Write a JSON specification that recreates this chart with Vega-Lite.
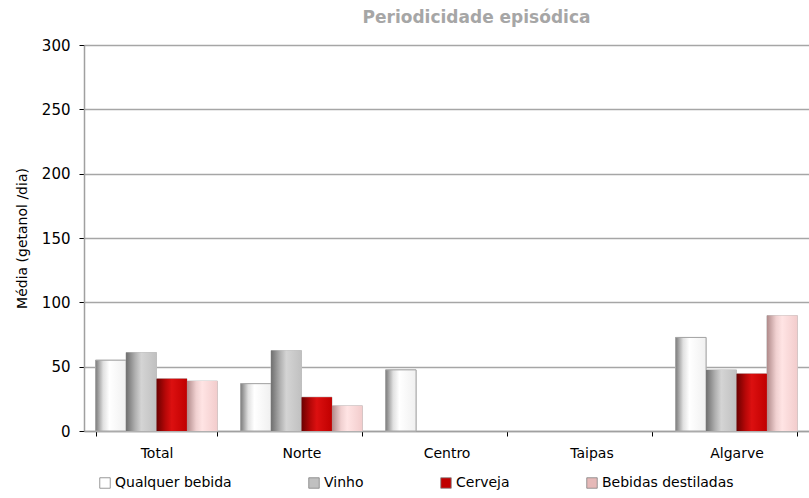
{
  "$schema": "https://vega.github.io/schema/vega-lite/v6.json",
  "width": 725,
  "height": 386,
  "autosize": {"type": "none"},
  "padding": {"left": 84, "top": 45, "right": 0, "bottom": 67},
  "background": "white",
  "title": {
    "text": "Periodicidade  episódica",
    "font": "DejaVu Sans",
    "fontSize": 17,
    "fontWeight": "bold",
    "color": "#a6a6a6",
    "anchor": "middle",
    "dx": 30,
    "offset": 11
  },
  "data": {
    "values": [
      {"regiao": "Total", "bebida": "Qualquer bebida", "media": 55},
      {"regiao": "Total", "bebida": "Vinho", "media": 61},
      {"regiao": "Total", "bebida": "Cerveja", "media": 40.6},
      {"regiao": "Total", "bebida": "Bebidas destiladas", "media": 38.8},
      {"regiao": "Norte", "bebida": "Qualquer bebida", "media": 36.8},
      {"regiao": "Norte", "bebida": "Vinho", "media": 62.5},
      {"regiao": "Norte", "bebida": "Cerveja", "media": 26.3},
      {"regiao": "Norte", "bebida": "Bebidas destiladas", "media": 19.6},
      {"regiao": "Centro", "bebida": "Qualquer bebida", "media": 47.5},
      {"regiao": "Algarve", "bebida": "Qualquer bebida", "media": 72.7},
      {"regiao": "Algarve", "bebida": "Vinho", "media": 47.5},
      {"regiao": "Algarve", "bebida": "Cerveja", "media": 44.4},
      {"regiao": "Algarve", "bebida": "Bebidas destiladas", "media": 89.7}
    ]
  },
  "encoding": {
    "x": {
      "field": "regiao",
      "type": "nominal",
      "sort": null,
      "scale": {"domain": ["Total", "Norte", "Centro", "Taipas", "Algarve"], "paddingInner": 0.16, "paddingOuter": 0.08},
      "axis": {
        "title": null,
        "labelAngle": 0,
        "labelFont": "DejaVu Sans",
        "labelFontSize": 14,
        "labelColor": "#000000",
        "labelPadding": 10,
        "domainColor": "#a0a0a0",
        "domainWidth": 1.5,
        "tickColor": "#000000",
        "tickSize": 5,
        "tickBand": "extent"
      }
    },
    "xOffset": {
      "field": "bebida",
      "type": "nominal",
      "scale": {"domain": ["Qualquer bebida", "Vinho", "Cerveja", "Bebidas destiladas"], "paddingInner": 0, "paddingOuter": 0}
    },
    "y": {
      "field": "media",
      "type": "quantitative",
      "scale": {"domain": [0, 300]},
      "axis": {
        "title": "Média (getanol /dia)",
        "titleFont": "DejaVu Sans",
        "titleFontSize": 14,
        "titleFontWeight": "normal",
        "titleColor": "#000000",
        "titlePadding": 12,
        "values": [0, 50, 100, 150, 200, 250, 300],
        "labelFont": "DejaVu Sans",
        "labelFontSize": 15,
        "labelColor": "#000000",
        "labelPadding": 9,
        "domainColor": "#a0a0a0",
        "domainWidth": 1.5,
        "tickColor": "#000000",
        "tickSize": 5,
        "grid": true,
        "gridColor": "#a6a6a6",
        "gridWidth": 1.4
      }
    }
  },
  "layer": [
    {
      "mark": {"type": "bar", "stroke": "#bfbfbf", "strokeWidth": 1},
      "encoding": {
        "color": {
          "field": "bebida",
          "type": "nominal",
          "scale": {"domain": ["Qualquer bebida", "Vinho", "Cerveja", "Bebidas destiladas"], "range": ["#ffffff", "#c0c0c0", "#c00000", "#e6b9b8"]},
          "legend": {
            "title": null,
            "orient": "none",
            "legendX": 14,
            "legendY": 431,
            "direction": "horizontal",
            "symbolType": "square",
            "symbolSize": 110,
            "symbolStrokeColor": "#808080",
            "symbolStrokeWidth": 0.8,
            "labelFont": "DejaVu Sans",
            "labelFontSize": 14,
            "labelColor": "#000000",
            "labelOffset": 3,
            "columnPadding": 75,
            "labelLimit": 300
          }
        }
      }
    },
    {
      "transform": [{"filter": "datum.bebida === 'Qualquer bebida'"}],
      "mark": {"type": "bar", "stroke": "#a6a6a6", "strokeWidth": 1, "color": {"gradient": "linear", "x1": 0, "y1": 0, "x2": 1, "y2": 0, "stops": [{"offset": 0, "color": "#7a7a7a"}, {"offset": 0.25, "color": "#e0e0e0"}, {"offset": 0.45, "color": "#ffffff"}, {"offset": 1, "color": "#f0f0f0"}]}}
    },
    {
      "transform": [{"filter": "datum.bebida === 'Vinho'"}],
      "mark": {"type": "bar", "color": {"gradient": "linear", "x1": 0, "y1": 0, "x2": 1, "y2": 0, "stops": [{"offset": 0, "color": "#6e6e6e"}, {"offset": 0.3, "color": "#b0b0b0"}, {"offset": 0.5, "color": "#d4d4d4"}, {"offset": 1, "color": "#c0c0c0"}]}}
    },
    {
      "transform": [{"filter": "datum.bebida === 'Cerveja'"}],
      "mark": {"type": "bar", "color": {"gradient": "linear", "x1": 0, "y1": 0, "x2": 1, "y2": 0, "stops": [{"offset": 0, "color": "#6a0000"}, {"offset": 0.3, "color": "#b80808"}, {"offset": 0.5, "color": "#dc1010"}, {"offset": 1, "color": "#c00000"}]}}
    },
    {
      "transform": [{"filter": "datum.bebida === 'Bebidas destiladas'"}],
      "mark": {"type": "bar", "color": {"gradient": "linear", "x1": 0, "y1": 0, "x2": 1, "y2": 0, "stops": [{"offset": 0, "color": "#b08a8a"}, {"offset": 0.3, "color": "#f0d0d0"}, {"offset": 0.5, "color": "#ffe4e4"}, {"offset": 1, "color": "#f2cccc"}]}}
    }
  ],
  "config": {"view": {"stroke": null}}
}
